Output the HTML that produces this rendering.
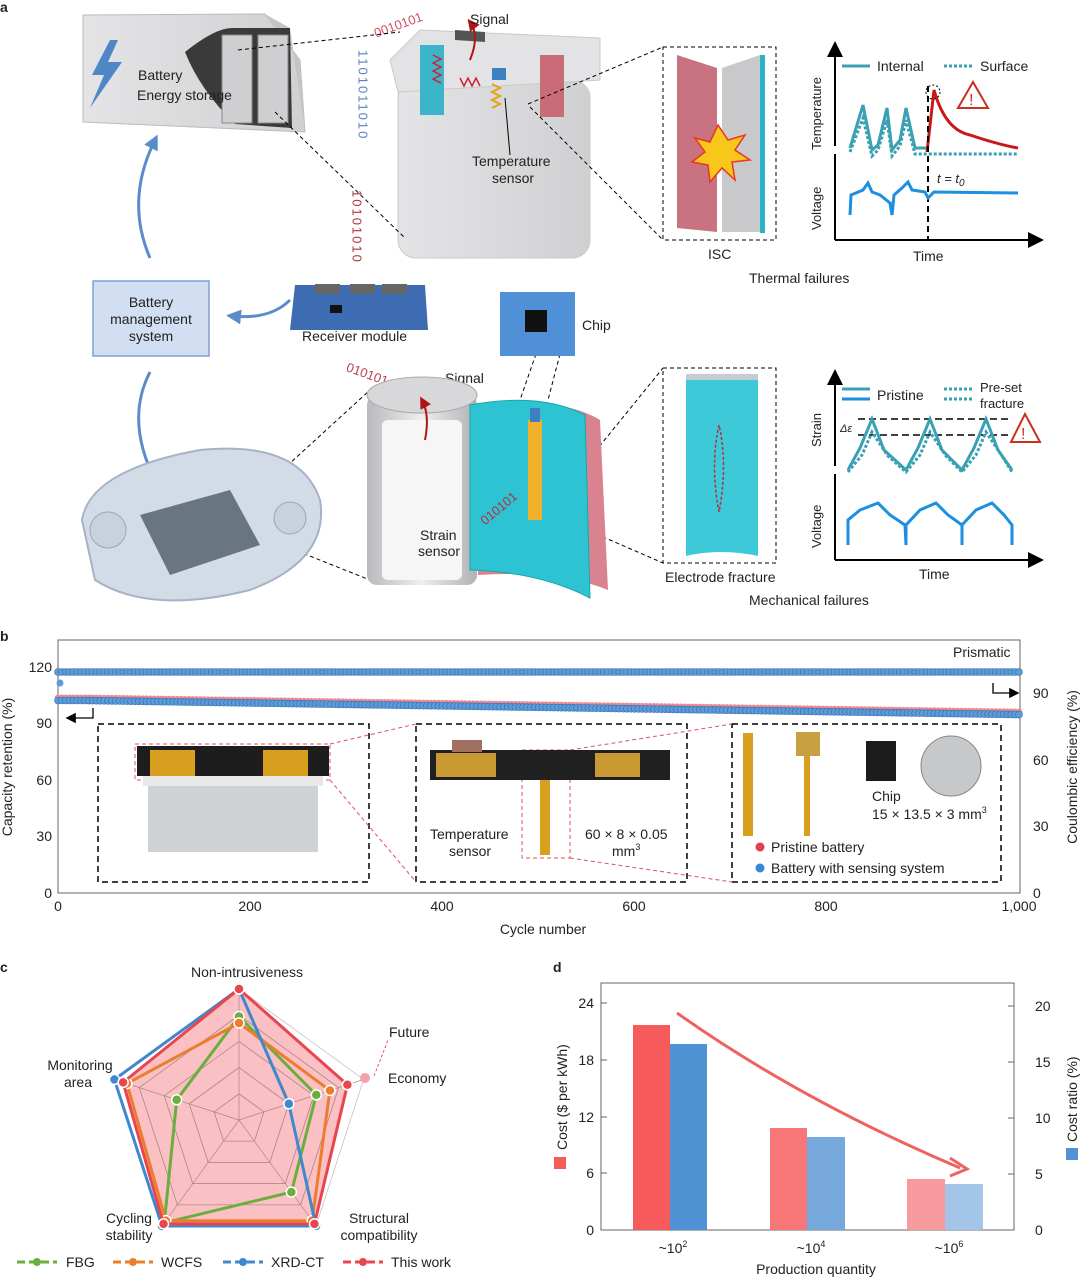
<!DOCTYPE html>
<html><head><meta charset="utf-8"><style>
html,body{margin:0;padding:0;background:#fff}
svg{display:block;font-family:"Liberation Sans",Arial,sans-serif}
</style></head><body>
<svg id="s" width="1080" height="1277" viewBox="0 0 1080 1277" xmlns="http://www.w3.org/2000/svg">
<defs>
<linearGradient id="gbox" x1="0" x2="1"><stop offset="0" stop-color="#e4e4e6"/><stop offset="1" stop-color="#cfd0d2"/></linearGradient>
<linearGradient id="gcyl" x1="0" x2="1"><stop offset="0" stop-color="#b9babd"/><stop offset="0.5" stop-color="#eeeeee"/><stop offset="1" stop-color="#b0b1b4"/></linearGradient>
<marker id="ah" markerWidth="8" markerHeight="8" refX="6" refY="4" orient="auto"><path d="M0,0 L8,4 L0,8 z" fill="#000"/></marker>
<marker id="ahr" markerWidth="6" markerHeight="6" refX="4" refY="3" orient="auto"><path d="M0,0 L6,3 L0,6 z" fill="#b01515"/></marker>
<marker id="ahb" markerWidth="5" markerHeight="5" refX="3" refY="2.5" orient="auto"><path d="M0,0 L5,2.5 L0,5 z" fill="#5b8cc8"/></marker>
</defs>
<g font-size="14" fill="#222">
<text x="0" y="12" font-weight="bold" font-size="14">a</text>
<polygon points="83,15 265,14 300,60 305,132 83,122" fill="url(#gbox)" stroke="#bbb"/>
<polygon points="265,14 290,28 305,132 300,60" fill="#c4c5c7"/>
<path d="M185,52 Q215,28 232,28 L290,28 L292,128 L235,124 Q200,90 185,52z" fill="#3a3a3a"/>
<rect x="222" y="35" width="30" height="88" fill="#cfcfd1" stroke="#888"/><rect x="258" y="35" width="30" height="88" fill="#cfcfd1" stroke="#888"/>
<polygon points="110,40 92,75 104,75 90,108 122,62 108,62 118,40" fill="#4f86c6"/>
<text x="138" y="80">Battery</text><text x="137" y="100">Energy storage</text>
<rect x="398" y="80" width="192" height="178" rx="18" fill="url(#gbox)" stroke="#c9c9c9"/>
<polygon points="390,60 420,30 600,38 600,80 398,92" fill="#e3e3e5" stroke="#c9c9c9"/>
<rect x="420" y="45" width="24" height="70" fill="#3bb5c7"/><rect x="540" y="55" width="24" height="62" fill="#c96c78"/>
<path d="M433,55 l8,4 -8,4 8,4 -8,4 8,4 -8,4 8,4" stroke="#c23" fill="none" stroke-width="1.5"/>
<path d="M460,78 l4,8 4,-8 4,8 4,-8 4,8" stroke="#c23" fill="none" stroke-width="1.5"/>
<rect x="492" y="68" width="14" height="12" fill="#3e7fc2"/>
<path d="M492,84 l8,4 -8,4 8,4 -8,4 8,4 -8,4" stroke="#e3a21a" fill="none" stroke-width="2"/>
<polygon points="455,40 485,42 485,32 455,30" fill="#555"/>
<path d="M470,60 Q480,35 470,22" stroke="#b01515" stroke-width="2" fill="none" marker-end="url(#ahr)"/>
<text x="470" y="24">Signal</text>
<text x="372" y="25" fill="#d05060" font-size="13" transform="rotate(-20 410 20)">0010101</text>
<text x="363" y="50" fill="#5b80b8" font-size="13" writing-mode="tb" letter-spacing="2">1101011010</text>
<text x="357" y="190" fill="#b03040" font-size="13" writing-mode="tb" letter-spacing="2">10101010</text>
<text x="472" y="166" font-size="14">Temperature</text><text x="492" y="183" font-size="14">sensor</text>
<line x1="510" y1="155" x2="505" y2="98" stroke="#000"/>
<g stroke="#000" stroke-dasharray="4,3" fill="none">
<line x1="238" y1="50" x2="400" y2="32"/><line x1="275" y1="112" x2="405" y2="238"/>
<line x1="528" y1="104" x2="663" y2="47"/><line x1="530" y1="107" x2="663" y2="240"/>
<rect x="663" y="47" width="113" height="193"/>
<rect x="663" y="368" width="113" height="195"/>
<line x1="536" y1="354" x2="520" y2="400"/><line x1="560" y1="354" x2="548" y2="400"/>
<line x1="564" y1="490" x2="663" y2="368"/><line x1="564" y1="520" x2="663" y2="563"/>
<rect x="554" y="480" width="8" height="60"/>
<line x1="230" y1="518" x2="370" y2="390"/><line x1="232" y1="525" x2="370" y2="580"/>
</g>
<polygon points="677,55 717,68 717,232 677,228" fill="#c8737f"/>
<polygon points="722,68 760,55 760,232 722,232" fill="#c9c9cb"/>
<rect x="760" y="55" width="5" height="178" fill="#2ab3c8"/>
<polygon points="718,125 728,140 745,135 735,150 750,160 732,162 735,180 722,168 710,182 708,165 692,162 705,152 695,138 710,142" fill="#f7c81b" stroke="#e32" stroke-width="1.5"/>
<text x="708" y="259">ISC</text>
<text x="749" y="283">Thermal failures</text>
<line x1="835" y1="240" x2="1040" y2="240" stroke="#000" stroke-width="2" marker-end="url(#ah)"/>
<line x1="835" y1="240" x2="835" y2="45" stroke="#000" stroke-width="2" marker-end="url(#ah)"/>
<line x1="832" y1="150" x2="838" y2="150" stroke="#fff" stroke-width="8"/>
<text transform="translate(821,150) rotate(-90)" font-size="13">Temperature</text>
<text transform="translate(821,230) rotate(-90)" font-size="13">Voltage</text>
<text x="913" y="261">Time</text>
<line x1="842" y1="66" x2="870" y2="66" stroke="#3aa0b3" stroke-width="3"/><text x="877" y="71">Internal</text>
<line x1="944" y1="66" x2="973" y2="66" stroke="#3aa0b3" stroke-width="3" stroke-dasharray="3,2"/><text x="980" y="71">Surface</text>
<polyline points="850,148 863,105 872,150 878,145 887,108 892,150 900,140 906,108 915,148 927,148" fill="none" stroke="#3aa0b3" stroke-width="3"/>
<polyline points="850,152 863,118 872,156 878,150 887,120 892,156 900,146 906,120 915,154 1018,154" fill="none" stroke="#3aa0b3" stroke-width="3" stroke-dasharray="3,2"/>
<path d="M927,152 L934,90 Q945,130 970,135 Q1000,145 1018,148" fill="none" stroke="#c81818" stroke-width="3"/>
<circle cx="933" cy="92" r="7" fill="none" stroke="#000" stroke-dasharray="2,2"/>
<line x1="928" y1="86" x2="928" y2="240" stroke="#000" stroke-width="2" stroke-dasharray="6,4"/>
<polygon points="973,82 958,108 988,108" fill="none" stroke="#c83020" stroke-width="2"/><text x="969" y="105" fill="#c83020" font-size="16">!</text>
<text x="937" y="183" font-style="italic" font-size="13">t = t<tspan font-size="10" dy="3">0</tspan></text>
<polyline points="850,215 851,195 863,190 868,183 872,192 880,195 890,203 892,215 894,195 902,188 908,182 912,190 925,192 928,198 934,192 1018,193" fill="none" stroke="#1b8fe0" stroke-width="3"/>
<rect x="93" y="281" width="116" height="75" fill="#d2def2" stroke="#7fa1d2" stroke-width="1.5"/>
<text x="151" y="307" text-anchor="middle">Battery</text><text x="151" y="324" text-anchor="middle">management</text><text x="151" y="341" text-anchor="middle">system</text>
<path d="M150,258 Q125,200 155,140" stroke="#5b8cc8" stroke-width="3" fill="none" marker-end="url(#ahb)"/>
<path d="M150,372 Q125,420 155,480" stroke="#5b8cc8" stroke-width="3" fill="none" marker-end="url(#ahb)"/>
<path d="M290,300 Q270,320 232,316" stroke="#5b8cc8" stroke-width="3" fill="none" marker-end="url(#ahb)"/>
<polygon points="295,285 425,285 428,330 290,330" fill="#3d6cb3"/>
<rect x="315" y="284" width="25" height="10" fill="#666"/><rect x="350" y="284" width="25" height="10" fill="#666"/><rect x="382" y="284" width="25" height="10" fill="#666"/>
<rect x="330" y="305" width="12" height="8" fill="#111"/>
<text x="302" y="341">Receiver module</text>
<rect x="500" y="292" width="75" height="64" fill="#4f90d6"/><rect x="525" y="310" width="22" height="22" fill="#111"/>
<text x="582" y="330">Chip</text>
<text x="345" y="383" fill="#c04050" font-size="13" transform="rotate(20 380 378)">010101</text>
<text x="445" y="383">Signal</text>
<rect x="367" y="395" width="110" height="190" rx="10" fill="url(#gcyl)"/>
<ellipse cx="422" cy="395" rx="55" ry="18" fill="#d8d8da" stroke="#aaa"/>
<rect x="382" y="420" width="80" height="160" rx="6" fill="#f6f6f6"/>
<path d="M425,440 Q430,415 422,400" stroke="#b01515" stroke-width="2" fill="none" marker-end="url(#ahr)"/>
<text x="420" y="540">Strain</text><text x="418" y="556">sensor</text>
<path d="M478,410 Q560,395 600,420 L608,590 Q560,570 478,575z" fill="#d8838f"/>
<path d="M470,405 Q540,392 585,415 L590,598 Q540,572 470,570z" fill="#2ec3d3" stroke="#1aa"/>
<rect x="528" y="420" width="14" height="100" fill="#f1b12a"/>
<rect x="530" y="408" width="10" height="14" fill="#3e7fc2"/>
<text x="472" y="510" fill="#b03040" font-size="13" transform="rotate(-40 500 500)">010101</text>
<path d="M686,378 Q720,372 758,378 L758,556 Q720,548 686,556z" fill="#3ec9d8"/>
<rect x="686" y="374" width="72" height="6" fill="#c6ccd0"/>
<path d="M719,425 Q710,465 719,512 Q728,465 719,425" fill="none" stroke="#b03040" stroke-dasharray="3,2" stroke-width="1.5"/>
<text x="665" y="582">Electrode fracture</text>
<text x="749" y="605">Mechanical failures</text>
<path d="M82,520 Q90,470 200,450 Q300,440 320,500 Q330,560 250,590 Q150,615 95,580z" fill="#d3dbe6" stroke="#a5b3c6" stroke-width="2"/>
<polygon points="140,515 230,490 260,545 170,575" fill="#6a7582"/>
<circle cx="108" cy="530" r="18" fill="#c8d2de" stroke="#9aa"/><circle cx="290" cy="518" r="16" fill="#c8d2de" stroke="#9aa"/>
<line x1="835" y1="560" x2="1040" y2="560" stroke="#000" stroke-width="2" marker-end="url(#ah)"/>
<line x1="835" y1="560" x2="835" y2="373" stroke="#000" stroke-width="2" marker-end="url(#ah)"/>
<line x1="832" y1="470" x2="838" y2="470" stroke="#fff" stroke-width="8"/>
<text transform="translate(821,447) rotate(-90)" font-size="13">Strain</text>
<text transform="translate(821,548) rotate(-90)" font-size="13">Voltage</text>
<text x="919" y="579">Time</text>
<line x1="842" y1="389" x2="870" y2="389" stroke="#3aa0b3" stroke-width="3"/><line x1="842" y1="399" x2="870" y2="399" stroke="#1b8fe0" stroke-width="3"/>
<text x="877" y="400">Pristine</text>
<line x1="944" y1="389" x2="973" y2="389" stroke="#3aa0b3" stroke-width="3" stroke-dasharray="3,2"/><line x1="944" y1="399" x2="973" y2="399" stroke="#3aa0b3" stroke-width="3" stroke-dasharray="3,2"/>
<text x="980" y="392" font-size="13">Pre-set</text><text x="980" y="408" font-size="13">fracture</text>
<g stroke="#000" stroke-dasharray="7,4" stroke-width="1.6"><line x1="858" y1="419" x2="1010" y2="419"/><line x1="858" y1="435" x2="1010" y2="435"/></g>
<text x="840" y="432" font-size="11" font-style="italic">Δε</text>
<polygon points="1025,414 1011,442 1040,442" fill="none" stroke="#c83020" stroke-width="2"/><text x="1021" y="439" fill="#c83020" font-size="16">!</text>
<polyline points="848,470 860,448 872,419 884,450 906,470 918,448 930,419 942,450 962,470 974,448 986,419 998,450 1012,470" fill="none" stroke="#3aa0b3" stroke-width="3"/>
<polyline points="848,472 862,455 872,432 888,456 906,472 920,455 930,432 946,456 962,472 976,455 986,432 1002,456 1012,472" fill="none" stroke="#3aa0b3" stroke-width="3" stroke-dasharray="3,2"/>
<polyline points="848,545 848,520 860,510 878,503 890,515 905,525 906,545 906,525 920,510 936,503 948,515 962,525 962,545 962,525 976,510 992,503 1004,515 1012,525 1012,545" fill="none" stroke="#1b8fe0" stroke-width="3"/>

<text x="0" y="641" font-weight="bold">b</text>
<rect x="58" y="640" width="962" height="253" fill="none" stroke="#666"/>
<g id="dots"></g>
<g font-size="14" text-anchor="end">
<text x="52" y="898">0</text><text x="52" y="841">30</text><text x="52" y="785">60</text><text x="52" y="728">90</text><text x="52" y="672">120</text>
</g>
<g font-size="14">
<text x="1033" y="898">0</text><text x="1033" y="831">30</text><text x="1033" y="765">60</text><text x="1033" y="698">90</text>
</g>
<g font-size="14" text-anchor="middle">
<text x="58" y="911">0</text><text x="250" y="911">200</text><text x="442" y="911">400</text><text x="634" y="911">600</text><text x="826" y="911">800</text><text x="1019" y="911">1,000</text>
<text x="543" y="934">Cycle number</text>
</g>
<text transform="translate(12,767) rotate(-90)" text-anchor="middle" font-size="14">Capacity retention (%)</text>
<text transform="translate(1077,767) rotate(-90)" text-anchor="middle" font-size="14">Coulombic efficiency (%)</text>
<text x="953" y="657">Prismatic</text>
<path d="M993,683 L993,693 L1017,693" stroke="#000" fill="none" stroke-width="1.3" marker-end="url(#ah)"/>
<path d="M93,708 L93,718 L68,718" stroke="#000" fill="none" stroke-width="1.3" marker-end="url(#ah)"/>
<g stroke="#000" stroke-dasharray="6,4" stroke-width="1.5" fill="none">
<rect x="98" y="724" width="271" height="158"/><rect x="416" y="724" width="271" height="158"/><rect x="732" y="724" width="269" height="158"/>
</g>
<g stroke="#e05060" stroke-dasharray="4,3" fill="none">
<rect x="135" y="744" width="195" height="36"/><line x1="330" y1="744" x2="416" y2="724"/><line x1="330" y1="780" x2="416" y2="882"/>
<rect x="522" y="750" width="48" height="108"/><line x1="570" y1="858" x2="732" y2="882"/><line x1="570" y1="750" x2="732" y2="724"/>
</g>
<rect x="137" y="746" width="192" height="30" fill="#1d1d1d"/>
<rect x="150" y="750" width="45" height="26" fill="#d9a020"/><rect x="263" y="750" width="45" height="26" fill="#d9a020"/>
<rect x="143" y="776" width="180" height="10" fill="#e8e8e8"/>
<rect x="148" y="786" width="170" height="66" fill="#cfd2d4"/>
<rect x="430" y="750" width="240" height="30" fill="#202020"/>
<rect x="436" y="753" width="60" height="24" fill="#c99a33"/><rect x="595" y="753" width="45" height="24" fill="#c99a33"/>
<rect x="452" y="740" width="30" height="12" fill="#a07060"/>
<rect x="540" y="780" width="10" height="75" fill="#d9a020"/>
<text x="430" y="839">Temperature</text><text x="449" y="856">sensor</text>
<text x="585" y="839">60 × 8 × 0.05</text><text x="612" y="856">mm<tspan font-size="9" dy="-6">3</tspan></text>
<rect x="743" y="733" width="10" height="103" fill="#d9a020"/><rect x="796" y="732" width="24" height="24" fill="#c8a040"/><rect x="804" y="756" width="6" height="80" fill="#d9a020"/>
<rect x="866" y="741" width="30" height="40" fill="#1c1c1c"/>
<circle cx="951" cy="766" r="30" fill="#c6c8ca" stroke="#888"/>
<text x="872" y="801">Chip</text><text x="872" y="819">15 × 13.5 × 3 mm<tspan font-size="9" dy="-6">3</tspan></text>
<circle cx="760" cy="847" r="4.5" fill="#e04050"/><text x="771" y="852">Pristine battery</text>
<circle cx="760" cy="868" r="4.5" fill="#3a86d4"/><text x="771" y="873">Battery with sensing system</text>

<text x="0" y="972" font-weight="bold">c</text>
<g id="radar"></g>
<g font-size="14">
<text x="247" y="977" text-anchor="middle">Non-intrusiveness</text>
<text x="389" y="1037">Future</text><text x="388" y="1083">Economy</text>
<text x="80" y="1070" text-anchor="middle">Monitoring</text><text x="78" y="1087" text-anchor="middle">area</text>
<text x="129" y="1223" text-anchor="middle">Cycling</text><text x="129" y="1240" text-anchor="middle">stability</text>
<text x="379" y="1223" text-anchor="middle">Structural</text><text x="379" y="1240" text-anchor="middle">compatibility</text>
</g>
<line x1="374" y1="1076" x2="388" y2="1040" stroke="#e06070" stroke-dasharray="3,2"/>
<circle cx="365" cy="1078" r="5" fill="#f4a0aa"/>
<g font-size="14">
<line x1="17" y1="1262" x2="57" y2="1262" stroke="#6aae3d" stroke-width="3" stroke-dasharray="8,4"/><circle cx="37" cy="1262" r="4" fill="#6aae3d"/><text x="66" y="1267">FBG</text>
<line x1="113" y1="1262" x2="153" y2="1262" stroke="#ec7d2e" stroke-width="3" stroke-dasharray="8,4"/><circle cx="133" cy="1262" r="4" fill="#ec7d2e"/><text x="161" y="1267">WCFS</text>
<line x1="223" y1="1262" x2="263" y2="1262" stroke="#3f88cf" stroke-width="3" stroke-dasharray="8,4"/><circle cx="243" cy="1262" r="4" fill="#3f88cf"/><text x="271" y="1267">XRD-CT</text>
<line x1="343" y1="1262" x2="383" y2="1262" stroke="#e8464e" stroke-width="3" stroke-dasharray="8,4"/><circle cx="363" cy="1262" r="4" fill="#e8464e"/><text x="391" y="1267">This work</text>
</g>

<text x="553" y="972" font-weight="bold">d</text>
<rect x="601" y="983" width="413" height="247" fill="none" stroke="#666"/>
<rect x="633" y="1025" width="37" height="205" fill="#f65a5a"/>
<rect x="670" y="1044" width="37" height="186" fill="#4f93d5"/>
<rect x="770" y="1128" width="37" height="102" fill="#f77778"/>
<rect x="807" y="1137" width="38" height="93" fill="#77a8db"/>
<rect x="907" y="1179" width="38" height="51" fill="#f79a9d"/>
<rect x="945" y="1184" width="38" height="46" fill="#a3c5e8"/>
<path d="M677,1013 Q800,1100 960,1168" stroke="#ef6262" stroke-width="3" fill="none"/>
<path d="M950,1158 L967,1169 L950,1176" stroke="#ef6262" stroke-width="3" fill="none"/>
<g font-size="14" text-anchor="end">
<text x="594" y="1235">0</text><text x="594" y="1178">6</text><text x="594" y="1122">12</text><text x="594" y="1065">18</text><text x="594" y="1008">24</text>
</g>
<g stroke="#666"><line x1="1014" y1="1174" x2="1008" y2="1174"/><line x1="1014" y1="1118" x2="1008" y2="1118"/><line x1="1014" y1="1062" x2="1008" y2="1062"/><line x1="1014" y1="1006" x2="1008" y2="1006"/>
<line x1="601" y1="1173" x2="607" y2="1173"/><line x1="601" y1="1117" x2="607" y2="1117"/><line x1="601" y1="1060" x2="607" y2="1060"/><line x1="601" y1="1003" x2="607" y2="1003"/></g>
<g font-size="14">
<text x="1035" y="1235">0</text><text x="1035" y="1179">5</text><text x="1035" y="1123">10</text><text x="1035" y="1067">15</text><text x="1035" y="1011">20</text>
</g>
<g font-size="14" text-anchor="middle">
<text x="673" y="1253">~10<tspan font-size="9" dy="-6">2</tspan></text>
<text x="811" y="1253">~10<tspan font-size="9" dy="-6">4</tspan></text>
<text x="949" y="1253">~10<tspan font-size="9" dy="-6">6</tspan></text>
<text x="816" y="1274">Production quantity</text>
</g>
<rect x="554" y="1157" width="12" height="12" fill="#f65a5a"/>
<text transform="translate(567,1150) rotate(-90)" font-size="14">Cost ($ per kWh)</text>
<rect x="1066" y="1148" width="12" height="12" fill="#4f93d5"/>
<text transform="translate(1077,1142) rotate(-90)" font-size="14">Cost ratio (%)</text>
</g>
</svg>
<script>
var NS="http://www.w3.org/2000/svg";
function el(t,a,p){var e=document.createElementNS(NS,t);for(var k in a)e.setAttribute(k,a[k]);p.appendChild(e);return e;}
var d=document.getElementById("dots");
function yb(i){return i<30?700:700+(i-30)*0.0145;}
for(var i=0;i<=1000;i+=4){var x=58+i*0.961;
 el("circle",{cx:x,cy:yb(i)-2.2,r:3.3,fill:"#f08a92"},d);}
for(var i=0;i<=1000;i+=4){var x=58+i*0.961;
 el("circle",{cx:x,cy:yb(i)+0.5,r:3.5,fill:"#5c9ad8",stroke:"#2f6fb5","stroke-width":0.6},d);
 el("circle",{cx:x,cy:672,r:3.5,fill:"#5c9ad8",stroke:"#2f6fb5","stroke-width":0.6},d);}
el("circle",{cx:60,cy:683,r:3.5,fill:"#5c9ad8"},d);
var r=document.getElementById("radar");
var cx=239,cy=1120,R=131;
var ang=[-90,-18,54,126,198].map(function(a){return a*Math.PI/180;});
function pts(v){return v.map(function(f,k){return [cx+R*f*Math.cos(ang[k]),cy+R*f*Math.sin(ang[k])];});}
function ps(p){return p.map(function(q){return q[0].toFixed(1)+","+q[1].toFixed(1);}).join(" ");}
for(var l=1;l<=5;l++) el("polygon",{points:ps(pts([l/5,l/5,l/5,l/5,l/5])),fill:"none",stroke:l==5?"#bbb":"#999","stroke-width":0.7},r);
var tw=[1.0,0.88,0.98,0.98,0.93];
el("polygon",{points:ps(pts(tw)),fill:"rgba(245,140,145,0.55)"},r);
for(var l=1;l<=4;l++) el("polygon",{points:ps(pts([l/5,l/5,l/5,l/5,l/5])),fill:"none",stroke:"#a88","stroke-width":0.7},r);
pts([1,1,1,1,1]).forEach(function(q){el("line",{x1:cx,y1:cy,x2:q[0],y2:q[1],stroke:"#a88","stroke-width":0.7},r);});
var S=[[[0.79,0.62,0.68,0.97,0.5],"#6aae3d"],[[0.74,0.73,0.95,0.95,0.9],"#ec7d2e"],[[1.0,0.4,1.0,1.0,1.0],"#3f88cf"],[[1.0,0.87,0.98,0.98,0.93],"#e8464e"]];
S.forEach(function(s){var p=pts(s[0]);el("polygon",{points:ps(p),fill:"none",stroke:s[1],"stroke-width":3},r);
 p.forEach(function(q){el("circle",{cx:q[0],cy:q[1],r:5,fill:s[1],stroke:"#fff","stroke-width":1.5},r);});});
</script>
</body></html>
